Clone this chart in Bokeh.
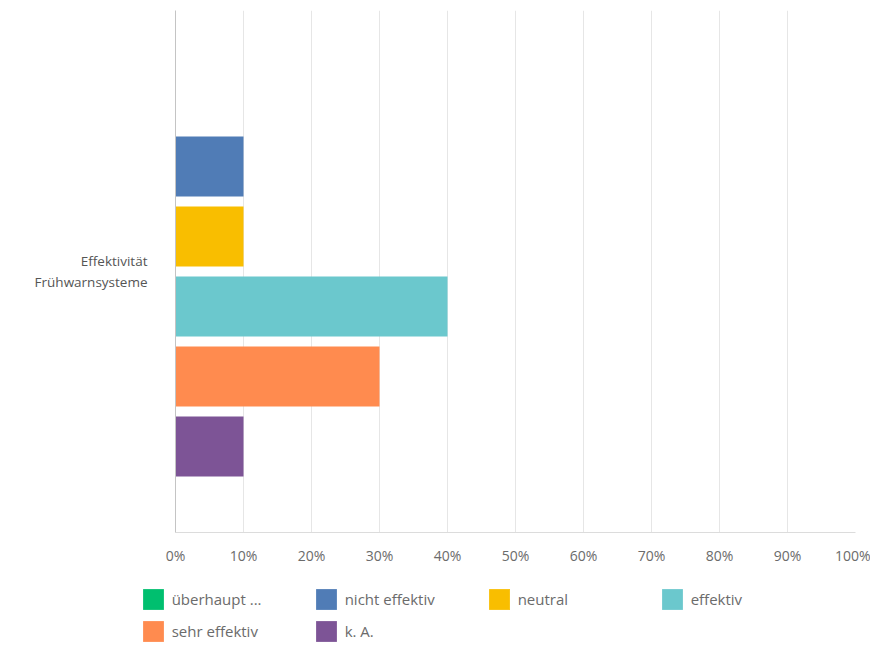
from bokeh.plotting import figure
from bokeh.models import Range1d, FixedTicker, Legend, LegendItem, ColumnDataSource
from bokeh.layouts import column
from bokeh.embed import file_html
from bokeh.resources import INLINE

category = "Effektivität\nFrühwarnsysteme"
series = ["überhaupt ...", "nicht effektiv", "neutral", "effektiv", "sehr effektiv", "k. A."]
values = [0, 10, 10, 40, 30, 10]
colors = ["#00BF6F", "#507CB6", "#F9BE00", "#6BC8CD", "#FF8B4F", "#7D5496"]
x_ticks = [0, 10, 20, 30, 40, 50, 60, 70, 80, 90, 100]
x_tick_labels = ["0%", "10%", "20%", "30%", "40%", "50%", "60%", "70%", "80%", "90%", "100%"]

FONT = "Open Sans"

p = figure(frame_width=680, frame_height=522, output_backend="svg", toolbar_location=None,
           x_range=Range1d(0, 100), y_range=Range1d(6.2286, -1.2286),
           min_border_left=175, min_border_right=15, min_border_top=10, min_border_bottom=38)
p.outline_line_color = None
p.background_fill_color = "white"
p.border_fill_color = "white"

for i, (s, v, c) in enumerate(zip(series, values, colors)):
    src = ColumnDataSource(dict(y=[i], right=[v]))
    p.hbar(y="y", right="right", left=0, height=0.857, source=src,
           fill_color=c, line_color=None)

# x axis
p.xaxis.ticker = FixedTicker(ticks=x_ticks)
p.xaxis.major_label_overrides = {t: l for t, l in zip(x_ticks, x_tick_labels)}
p.xaxis.axis_line_color = "#dcdcdc"
p.xaxis.major_tick_line_color = None
p.xaxis.minor_tick_line_color = None
p.xaxis.major_label_standoff = 7
p.xaxis.major_label_text_font = FONT
p.xaxis.major_label_text_font_size = "14px"
p.xaxis.major_label_text_color = "#6b6b6b"

# y axis
p.yaxis.ticker = FixedTicker(ticks=[2.5])
p.yaxis.major_label_overrides = {2.5: category}
p.yaxis.axis_line_color = "#c4c4c4"
p.yaxis.major_tick_line_color = None
p.yaxis.minor_tick_line_color = None
p.yaxis.major_label_standoff = 22
p.yaxis.major_label_text_font = FONT
p.yaxis.major_label_text_font_size = "13.5px"
p.yaxis.major_label_text_color = "#555555"
p.yaxis.major_label_text_align = "right"

p.xgrid.ticker = FixedTicker(ticks=x_ticks)
p.xgrid.grid_line_color = "#e6e6e6"
p.ygrid.grid_line_color = None

# legend strip below the chart
lg = figure(frame_width=715, frame_height=75, output_backend="svg", toolbar_location=None,
            x_axis_location=None, y_axis_location=None,
            x_range=Range1d(-2, -1), y_range=Range1d(-2, -1),
            min_border_left=140, min_border_right=15, min_border_top=0, min_border_bottom=0)
lg.outline_line_color = None
lg.xgrid.visible = False
lg.ygrid.visible = False
items = []
for i, (s, v, c) in enumerate(zip(series, values, colors)):
    src = ColumnDataSource(dict(y=[i], right=[v]))
    r = lg.hbar(y="y", right="right", left=0, height=0.857, source=src,
                fill_color=c, line_color=None)
    items.append(LegendItem(label=s, renderers=[r]))

legend = Legend(items=items, orientation="horizontal", ncols=4,
                location=(88, 1), padding=0, margin=0, spacing=6,
                glyph_width=26, glyph_height=26, label_standoff=6, label_width=135,
                label_text_font=FONT, label_text_font_size="15px", label_text_color="#6b6b6b",
                background_fill_alpha=0, border_line_color=None)
lg.add_layout(legend, "center")

open("out.html", "w").write(file_html(column(p, lg), INLINE))
